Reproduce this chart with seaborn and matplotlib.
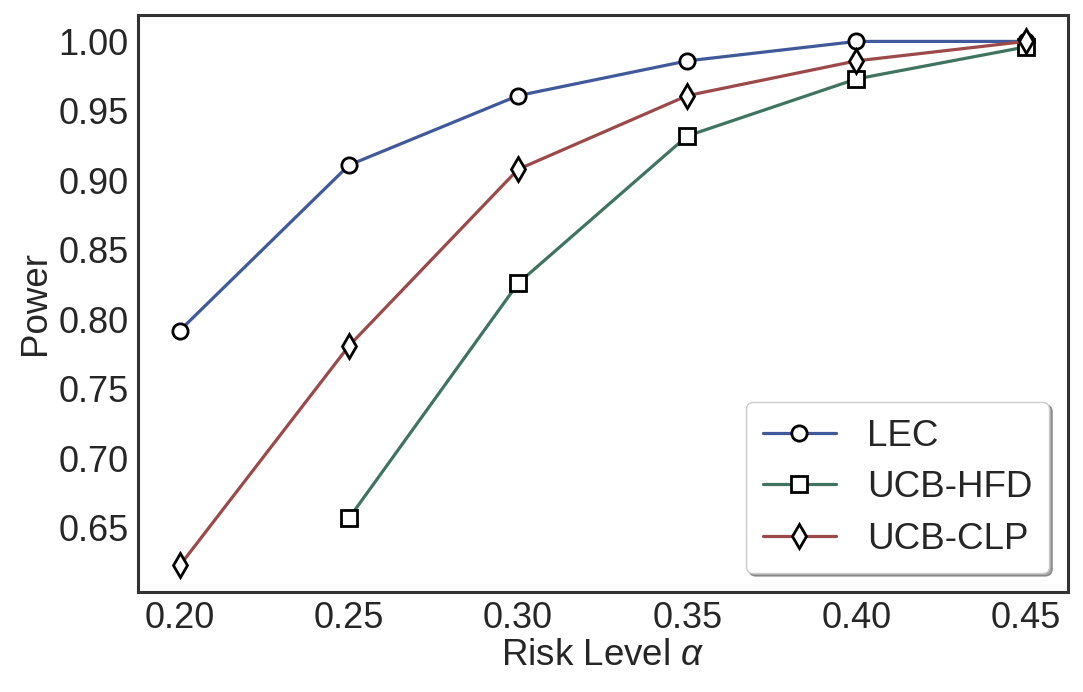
import pandas as pd
import seaborn as sns
import matplotlib.pyplot as plt

# values
alpha = [0.20, 0.25, 0.30, 0.35, 0.40, 0.45]
lec = [0.792, 0.911, 0.961, 0.986, 1.000, 1.000]
ucb_hfd = [None, 0.657, 0.826, 0.932, 0.973, 0.996]
ucb_clp = [0.623, 0.781, 0.908, 0.961, 0.986, 1.000]

series = [('LEC', lec, '#40599b', 'o'),
          ('UCB-HFD', ucb_hfd, '#3f7460', 's'),
          ('UCB-CLP', ucb_clp, '#9b4949', 'd')]

sns.set_style('white')
plt.rcParams['font.family'] = ['Liberation Sans', 'DejaVu Sans']
plt.rcParams['mathtext.fontset'] = 'custom'
plt.rcParams['mathtext.it'] = 'Liberation Sans:italic'

fig, ax = plt.subplots(figsize=(10.83, 6.92), dpi=100)

for name, vals, color, mk in series:
    df = pd.DataFrame({'alpha': alpha, 'power': vals}).dropna()
    sns.lineplot(data=df, x='alpha', y='power', ax=ax, label=name, color=color,
                 linewidth=2.3, marker=mk, markersize=11 if mk != 'd' else 12,
                 markerfacecolor='white', markeredgecolor='black',
                 markeredgewidth=2)

ax.set_xticks(alpha)
ax.set_xticklabels([f'{a:.2f}' for a in alpha])
ax.set_yticks([0.65, 0.70, 0.75, 0.80, 0.85, 0.90, 0.95, 1.00])
ax.tick_params(labelsize=26, colors='#262626', pad=3)
ax.set_xlabel(r'Risk Level $\alpha$', fontsize=26.5, color='#262626', labelpad=2)
ax.set_ylabel('Power', fontsize=26.5, color='#262626', labelpad=4)

for sp in ax.spines.values():
    sp.set_color('#333333')
    sp.set_linewidth(2.2)

leg = ax.legend(loc='lower right', fontsize=26.5, frameon=True, shadow=True,
                fancybox=True, handlelength=2.0, handletextpad=0.85,
                borderpad=0.45, labelspacing=0.45)
for t in leg.get_texts():
    t.set_color('#262626')

plt.subplots_adjust(left=0.127, right=0.986, top=0.978, bottom=0.145)
plt.savefig('out.png', dpi=100)
